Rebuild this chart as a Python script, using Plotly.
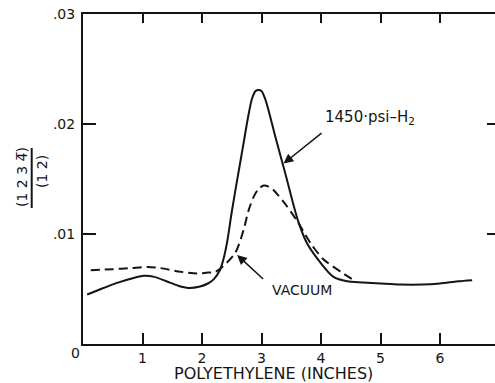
import plotly.graph_objects as go

# Data
solid_x = [0.07, 0.3, 0.6, 0.85, 1.02, 1.2, 1.4, 1.6, 1.77, 1.95, 2.1, 2.2, 2.3, 2.36,
           2.42, 2.50, 2.60, 2.70, 2.77, 2.84, 2.90, 2.95, 3.00, 3.06, 3.13, 3.22, 3.32,
           3.42, 3.52, 3.62, 3.76, 3.99, 4.21, 4.44, 4.7, 5.0, 5.33, 5.7, 6.0, 6.3, 6.54]
solid_y = [0.0045, 0.0050, 0.0056, 0.0060, 0.0062, 0.0061, 0.0057, 0.0053, 0.0051, 0.0052,
           0.0055, 0.0059, 0.0067, 0.0077, 0.0092, 0.0120, 0.0152, 0.0183, 0.0205, 0.0223,
           0.0230, 0.0231, 0.0230, 0.0223, 0.0210, 0.0191, 0.0171, 0.0151, 0.0130, 0.0111,
           0.0092, 0.0074, 0.0061, 0.0057, 0.0056, 0.0055, 0.0054, 0.0054, 0.0055, 0.0057,
           0.0058]

dash_x = [0.13, 0.5, 0.8, 1.08, 1.3, 1.6, 1.92, 2.1, 2.2, 2.36, 2.56, 2.70, 2.78, 2.87,
          2.95, 3.04, 3.12, 3.2, 3.43, 3.62, 3.82, 4.04, 4.38, 4.55]
dash_y = [0.0067, 0.0068, 0.0069, 0.0070, 0.0069, 0.0066, 0.0064, 0.0065, 0.0065, 0.0071,
          0.0083, 0.0104, 0.0121, 0.0134, 0.0141, 0.0144, 0.0143, 0.0140, 0.0125, 0.0110,
          0.0092, 0.0077, 0.0064, 0.0058]

x_tick_vals = [1, 2, 3, 4, 5, 6]
x_tick_text = ["1", "2", "3", "4", "5", "6"]
y_tick_vals = [0.01, 0.02, 0.03]
y_tick_text = [".01", ".02", ".03"]

FONT = "DejaVu Sans"
INK = "#141414"

fig = go.Figure()
fig.add_trace(go.Scatter(x=solid_x, y=solid_y, mode="lines",
                         line=dict(color=INK, width=2, shape="spline", smoothing=0.8),
                         showlegend=False, hoverinfo="skip"))
fig.add_trace(go.Scatter(x=dash_x, y=dash_y, mode="lines",
                         line=dict(color=INK, width=2, dash="9px,5px", shape="spline", smoothing=0.8),
                         showlegend=False, hoverinfo="skip"))
fig.add_trace(go.Scatter(x=[None], y=[None], xaxis="x2", yaxis="y2",
                         showlegend=False, hoverinfo="skip"))

XR = [0, 6.924]
YR = [0, 0.03]

fig.update_layout(
    width=495, height=383,
    margin=dict(l=83, r=0, t=14, b=39),
    paper_bgcolor="white", plot_bgcolor="white",
    font=dict(family=FONT, size=14, color=INK),
    xaxis=dict(range=XR, showgrid=False, zeroline=False, showline=True, linecolor=INK,
               linewidth=1.5, ticks="inside", ticklen=11, tickwidth=1.5, tickcolor=INK,
               tickvals=x_tick_vals, ticktext=x_tick_text, tickfont=dict(size=14)),
    yaxis=dict(range=YR, showgrid=False, zeroline=False, showline=True, linecolor=INK,
               linewidth=2, ticks="inside", ticklen=13, tickwidth=1.5, tickcolor=INK,
               tickvals=y_tick_vals, ticktext=y_tick_text, tickfont=dict(size=14),
               ticklabelstandoff=3),
    xaxis2=dict(range=XR, overlaying="x", side="top", anchor="y", showgrid=False,
                zeroline=False, showline=True, linecolor=INK, linewidth=2,
                ticks="inside", ticklen=9, tickwidth=1.5, tickcolor=INK,
                tickvals=x_tick_vals, showticklabels=False),
    yaxis2=dict(range=YR, overlaying="y", side="right", anchor="x", showgrid=False,
                zeroline=False, showline=False, ticks="inside", ticklen=8, tickwidth=1.5,
                tickcolor=INK, tickvals=[0.01, 0.02], showticklabels=False),
)

# x-axis title
fig.add_annotation(x=(273.5 - 83) / 412, y=(344 - 373) / 330, xref="paper", yref="paper",
                   text="POLYETHYLENE (INCHES)", showarrow=False,
                   xanchor="center", yanchor="middle", font=dict(size=16))

# origin label
fig.add_annotation(x=-8 / 412, y=-9 / 330, xref="paper", yref="paper", text="0",
                   showarrow=False, xanchor="center", yanchor="middle", font=dict(size=14))

# y-axis fraction title
fig.add_annotation(x=(22 - 83) / 412, y=(344 - 177) / 330, xref="paper", yref="paper",
                   text="(1 2 3 4\u0305)", textangle=-90, showarrow=False,
                   xanchor="center", yanchor="middle", font=dict(size=14))
fig.add_annotation(x=(42 - 83) / 412, y=(344 - 172) / 330, xref="paper", yref="paper",
                   text="(1 2)", textangle=-90, showarrow=False,
                   xanchor="center", yanchor="middle", font=dict(size=14))
fig.add_shape(type="line", xref="paper", yref="paper",
              x0=(31.7 - 83) / 412, x1=(31.7 - 83) / 412,
              y0=(344 - 148) / 330, y1=(344 - 208) / 330,
              line=dict(color=INK, width=2))

# curve labels and arrows
fig.add_annotation(x=4.04, y=0.0206, text="1450\u00b7psi\u2013H<sub>2</sub>", showarrow=False,
                   xanchor="left", yanchor="middle", font=dict(size=15))
fig.add_annotation(x=3.37, y=0.0164, ax=40, ay=-32, text="\u00a0", showarrow=True,
                   font=dict(size=2), arrowhead=2, arrowsize=1.3, arrowwidth=1.5,
                   arrowcolor=INK)
fig.add_annotation(x=3.686, y=0.0049, text="VACUUM", showarrow=False,
                   xanchor="center", yanchor="middle", font=dict(size=14))
fig.add_annotation(x=2.59, y=0.0081, ax=28, ay=26, text="\u00a0", showarrow=True,
                   font=dict(size=2), arrowhead=2, arrowsize=1.3, arrowwidth=1.5,
                   arrowcolor=INK)

fig.write_html("out.html")
